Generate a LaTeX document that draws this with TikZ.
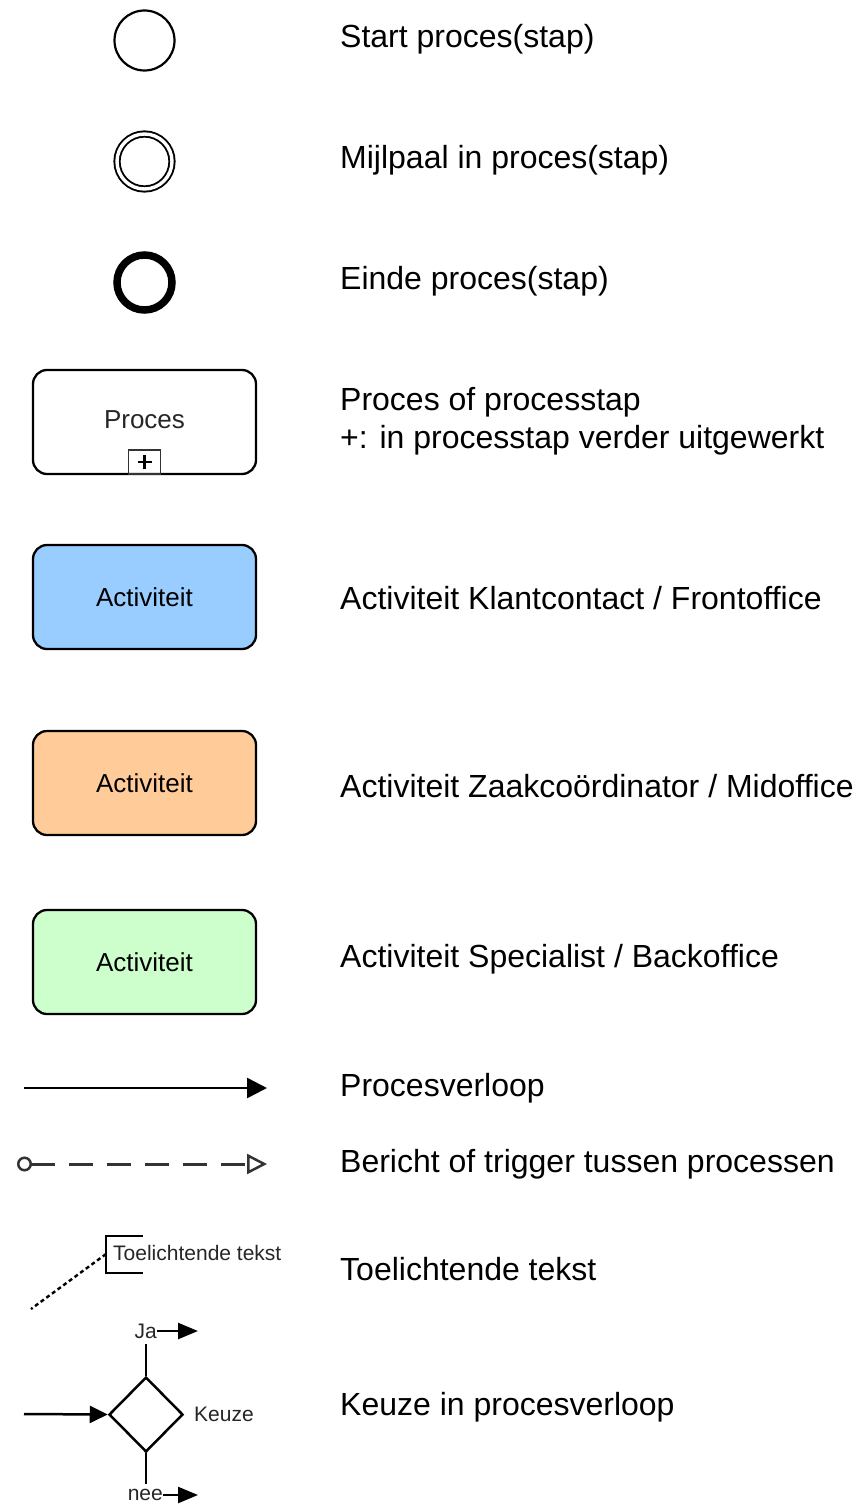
\documentclass[tikz,border=0pt]{standalone}
\usepackage{fontspec}
\setmainfont{Liberation Sans}
\usetikzlibrary{arrows.meta,shapes.geometric,positioning}

\definecolor{frontoffice}{HTML}{99CCFF}
\definecolor{midoffice}{HTML}{FFCC99}
\definecolor{backoffice}{HTML}{CCFFCC}

\tikzset{
  legtext/.style={anchor=west,inner sep=0pt,font=\fontsize{32}{36}\selectfont},
  smalltext/.style={inner sep=0pt,font=\fontsize{21}{25}\selectfont,text=black!85},
  startev/.style={circle,draw,line width=2.2pt,minimum size=60pt,inner sep=0pt},
  mijlpaal/.style={circle,draw,line width=1.9pt,double,double distance=3.4pt,minimum size=55pt,inner sep=0pt},
  eindev/.style={circle,draw,line width=7.5pt,minimum size=55pt,inner sep=0pt},
  actbox/.style={rectangle,draw,rounded corners=14pt,line width=2.3pt,minimum width=223pt,minimum height=104pt,
    font=\fontsize{26}{30}\selectfont},
  flow/.style={line width=2.5pt,-{Triangle[length=20pt,width=20pt]}},
  smallflow/.style={line width=2.5pt,-{Triangle[length=18pt,width=17pt]}},
  message/.style={line width=3pt,draw=black!80,dash pattern=on 24pt off 14pt,
    {Circle[open,length=15pt,width=15pt,line width=2.5pt]}-{Triangle[open,length=20pt,width=20pt,line width=2.5pt]}},
}

\begin{document}
\begin{tikzpicture}[x=1pt,y=-1pt]
\useasboundingbox (0,0) rectangle (858,1506);

% gebeurtenissen
\node[startev] (start) at (144.5,40.5) {};
\node[mijlpaal] (mijlpaal) at (144.5,161.5) {};
\node[eindev] (einde) at (144.5,282.5) {};

% processen en activiteiten
\node[actbox] (proces) at (144.5,422) {};
\node[font=\fontsize{26}{30}\selectfont,text=black!85] at (144.5,420) {Proces};
\node[rectangle,draw=black!80,line width=1.8pt,minimum width=32pt,minimum height=24pt,inner sep=0pt,anchor=south]
  (plus) at (proces.south) {};
\draw[line width=2.4pt] ([xshift=-7pt]plus.center) -- ([xshift=7pt]plus.center)
  ([yshift=-7pt]plus.center) -- ([yshift=7pt]plus.center);
\node[actbox,fill=frontoffice] (front) at (144.5,597) {Activiteit};
\node[actbox,fill=midoffice] (mid) at (144.5,783) {Activiteit};
\node[actbox,fill=backoffice] (back) at (144.5,962) {Activiteit};

% verbindingen
\coordinate (pv1) at (24,1088);
\coordinate (pv2) at (267,1088);
\draw[flow] (pv1) -- (pv2);
\coordinate (msg1) at (17,1164);
\coordinate (msg2) at (267,1164);
\draw[message] (msg1) -- (msg2);

% annotatie
\coordinate (brtop) at (143,1236);
\coordinate (brbot) at (143,1273);
\draw[line width=2.4pt] (brtop) -- (106,1236) coordinate (brtl) -- (106,1273) coordinate (brbl) -- (brbot);
\coordinate (brmid) at (106,1254);
\coordinate (annend) at (31,1309);
\draw[line width=2.4pt,dash pattern=on 4pt off 3pt] (brmid) -- (annend);
\node[smalltext,anchor=west] (toel) at (113,1253) {Toelichtende tekst};

% keuze
\node[diamond,draw,line width=2.5pt,minimum width=74pt,minimum height=75pt,inner sep=0pt] (keuze) at (146,1414.5) {};
\coordinate (kin) at (24,1414);
\draw[smallflow] (kin) -- (keuze.west);
\coordinate (jaend) at (146,1344);
\coordinate (neeend) at (146,1484);
\draw[line width=2.5pt] (keuze.north) -- (jaend);
\draw[line width=2.5pt] (keuze.south) -- (neeend);
\node[smalltext,anchor=east] (ja) at (157,1331) {Ja};
\coordinate (japijl) at (198,1331);
\draw[line width=2.5pt,-{Triangle[length=20pt,width=16pt]}] (ja.east) -- (japijl);
\node[smalltext,anchor=east] (nee) at (163,1495) {nee};
\coordinate (neepijl) at (198,1495);
\draw[line width=2.5pt,-{Triangle[length=20pt,width=16pt]}] (nee.east) -- (neepijl);
\node[smalltext,anchor=west] (keuzetxt) at (194,1414) {Keuze};

% toelichting
\node[legtext] (t1) at (340,39) {Start proces(stap)};
\node[legtext] (t2) at (340,160) {Mijlpaal in proces(stap)};
\node[legtext] (t3) at (340,281) {Einde proces(stap)};
\node[legtext] (t4) at (340,402) {Proces of processtap};
\node[legtext] (t5) at (340,440) {+: in processtap verder uitgewerkt};
\node[legtext] (t6) at (340,598) {Activiteit Klantcontact / Frontoffice};
\node[legtext] (t7) at (340,786) {Activiteit Zaakcoördinator / Midoffice};
\node[legtext] (t8) at (340,959) {Activiteit Specialist / Backoffice};
\node[legtext] (t9) at (340,1088) {Procesverloop};
\node[legtext] (t10) at (340,1164) {Bericht of trigger tussen processen};
\node[legtext] (t11) at (340,1269) {Toelichtende tekst};
\node[legtext] (t12) at (340,1407) {Keuze in procesverloop};
\end{tikzpicture}
\end{document}
